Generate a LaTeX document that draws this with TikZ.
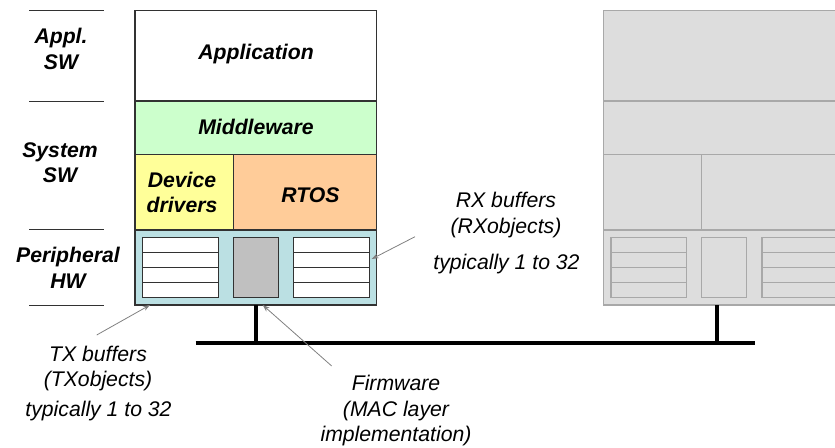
\documentclass[tikz,border=0pt]{standalone}
\usepackage{fontspec}
\setmainfont{Liberation Sans}
\usetikzlibrary{arrows.meta}

\definecolor{midgreen}{RGB}{204,255,204}
\definecolor{drvyellow}{RGB}{255,255,153}
\definecolor{rtosorange}{RGB}{255,204,153}
\definecolor{hwblue}{RGB}{187,224,227}
\definecolor{fwgray}{RGB}{192,192,192}
\definecolor{ghostfill}{RGB}{221,221,221}
\definecolor{ghostline}{RGB}{168,168,168}
\definecolor{pointergray}{RGB}{128,128,128}
\definecolor{edgedark}{RGB}{50,50,50}

\tikzset{
  every node/.style={inner sep=0pt, outer sep=0pt},
  % multi-line nodes: the base anchor sits on the last line
  txt/.style={font=\fontsize{21.2}{25.5}\selectfont\itshape, align=center, anchor=base},
  hd/.style={txt, font=\fontsize{21.2}{25.5}\selectfont\bfseries\itshape},
  layer/.style={rectangle, draw=edgedark, line width=1.3pt},
  rowline/.style={draw=edgedark, line width=1.3pt},
  rule/.style={draw=edgedark, line width=1pt},
  busline/.style={draw=black, line width=4pt},
  pointer/.style={draw=pointergray, line width=0.8pt,
    -{Stealth[length=7pt,width=5pt]}},
  % one protocol stack: layers, buffer banks and firmware block
  pics/layerstack/.style={code={
    \node[layer, appfill,  minimum width=241.7pt, minimum height=90.7pt] (-app)  at (120.85,45.35) {};
    \node[layer, midfill,  minimum width=241.7pt, minimum height=53.3pt] (-mid)  at (120.85,117.35) {};
    \node[layer, drvfill,  minimum width=98.3pt,  minimum height=75.7pt] (-drv)  at (49.15,181.85) {};
    \node[layer, rtosfill, minimum width=143.4pt, minimum height=75.7pt] (-rtos) at (170,181.85) {};
    \node[layer, hwfill,   minimum width=241.7pt, minimum height=75pt]   (-per)  at (120.85,257.2) {};
    \node[layer, buffill,  minimum width=75.6pt,  minimum height=60.4pt] (-tx)   at (45.5,257.2) {};
    \node[layer, fwfill,   minimum width=45pt,    minimum height=60.4pt] (-fw)   at (120.8,257.2) {};
    \node[layer, buffill,  minimum width=75.6pt,  minimum height=60.4pt] (-rx)   at (196.5,257.2) {};
    \foreach \yy in {242.3,257.4,272.5}{
      \draw[rowline] (7.7,\yy) -- (83.3,\yy);
      \draw[rowline] (158.7,\yy) -- (234.3,\yy);
    }
  }}
}

\begin{document}
\begin{tikzpicture}[x=1pt,y=-1pt]
\useasboundingbox (0,0) rectangle (835,447);

% layer rulers on the left
\draw[rule] (29,10.3) -- (104,10.3);
\draw[rule] (29,101) -- (104,101);
\draw[rule] (29,229) -- (104,229);
\draw[rule] (29,305) -- (104,305);

\node[hd] (lblappl) at (61,69.3)  {Appl.\\SW};
\node[hd] (lblsys)  at (60,182.7) {System\\SW};
\node[hd] (lblhw)   at (68,288.3) {Peripheral\\HW};

% second node, greyed out and cut by the page edge
\begin{scope}
  \clip (0,0) rectangle (835,447);
  \pic[layer/.style={rectangle, draw=ghostline, line width=1.3pt},
       rowline/.style={draw=ghostline, line width=1.3pt},
       appfill/.style={fill=ghostfill}, midfill/.style={fill=ghostfill},
       drvfill/.style={fill=ghostfill}, rtosfill/.style={fill=ghostfill},
       hwfill/.style={fill=ghostfill}, buffill/.style={fill=ghostfill},
       fwfill/.style={fill=ghostfill}] (R) at (603.3,10.3) {layerstack};
\end{scope}

% first node, in colour
\pic[appfill/.style={fill=white}, midfill/.style={fill=midgreen},
     drvfill/.style={fill=drvyellow}, rtosfill/.style={fill=rtosorange},
     hwfill/.style={fill=hwblue}, buffill/.style={fill=white},
     fwfill/.style={fill=fwgray}] (L) at (135,10.3) {layerstack};

\node[hd] (tapp)  at (256,59.3)  {Application};
\node[hd] (tmid)  at (256,134.3) {Middleware};
\node[hd] (tdrv)  at (182,212.7) {Device\\drivers};
\node[hd] (trtos) at (310.5,202.7) {RTOS};

% CAN bus with the two stubs
\coordinate (busL) at (195.7,343.3);
\coordinate (busR) at (755,343.3);
\coordinate (rstub) at (717,305);
\draw[busline] (busL) -- (busR);
\draw[busline] (L-per.south) -- (L-per.south |- busL);
\draw[busline] (rstub) -- (rstub |- busL);

% annotations
\node[txt] (rxlbl) at (506,233.3) {RX buffers\\(RXobjects)};
\node[txt] (rxnum) at (506.5,269) {typically 1 to 32};
\node[txt] (txlbl) at (98,386.7) {TX buffers\\(TXobjects)};
\node[txt] (txnum) at (98.5,416.7) {typically 1 to 32};
\node[txt] (fwlbl) at (396,441.7) {Firmware\\(MAC layer\\implementation)};

\coordinate (rxtail) at (415,236.7);
\coordinate (rxtip)  at (371.7,259);
\coordinate (txtail) at (96.7,335);
\coordinate (txtip)  at (150,305);
\coordinate (fwtail) at (331.7,366);
\coordinate (fwtip)  at (262.7,305);
\draw[pointer] (rxtail) -- (rxtip);
\draw[pointer] (txtail) -- (txtip);
\draw[pointer] (fwtail) -- (fwtip);
\end{tikzpicture}
\end{document}
